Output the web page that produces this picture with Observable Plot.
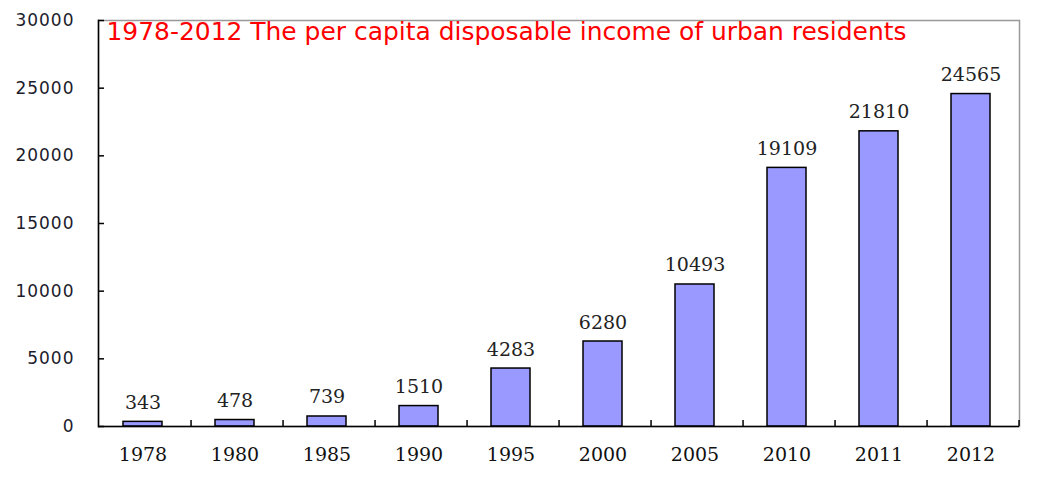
<!DOCTYPE html>
<html><head><meta charset="utf-8">
<script src="https://cdn.jsdelivr.net/npm/d3@7"></script>
<script src="https://cdn.jsdelivr.net/npm/@observablehq/plot@0.6"></script>
<style>
html,body{margin:0;padding:0;background:#fff;}
</style>
</head><body>
<div id="chart"></div>
<script>
const years = ["1978","1980","1985","1990","1995","2000","2005","2010","2011","2012"];
const incomes = [343,478,739,1510,4283,6280,10493,19109,21810,24565];
const yTicks = [0,5000,10000,15000,20000,25000,30000];
const titleText = "1978-2012 The per capita disposable income of urban residents";

const data = years.map((y,i)=>({year:y, value:incomes[i]}));
const W = 1044, H = 481, mL = 98, mR = 25, mT = 20, mB = 55;
const step = (W - mL - mR) / years.length;
const innerH = H - mT - mB;
const innerW = W - mL - mR;
const digitFont = "'DejaVu Serif', serif";

const chart = Plot.plot({
  width: W, height: H,
  marginLeft: mL, marginRight: mR, marginTop: mT, marginBottom: mB,
  style: {background: "#fff", overflow: "visible"},
  x: {domain: years, paddingInner: 0.58, paddingOuter: 0.29, align: 0.5},
  y: {domain: [0, 30000], ticks: yTicks},
  marks: [
    Plot.frame({stroke: "#999", strokeWidth: 1.5}),
    Plot.barY(data, {x: "year", y: "value", fill: "#9999FF", stroke: "#000", strokeWidth: 1.5, dx: -2}),
    Plot.frame({anchor: "left", stroke: "#000", strokeWidth: 1.5}),
    Plot.ruleY([0], {stroke: "#000", strokeWidth: 1.5}),
    Plot.tickY(yTicks, {y: d => d, stroke: "#000", strokeWidth: 1.5, insetRight: innerW - 6}),
    Plot.tickX(years, {x: d => d, dx: step / 2, stroke: "#000", strokeWidth: 1.5, insetTop: innerH - 6}),
    Plot.axisY({ticks: yTicks, tickFormat: d => String(d), tickSize: 0, tickPadding: 24, fontSize: 17, fontFamily: "'DejaVu Sans', Verdana, sans-serif", fill: "#1c1c2c", label: null}),
    Plot.axisX({tickSize: 0, tickPadding: 21, fontSize: 19, fontFamily: digitFont, fill: "#111", label: null, dx: -2}),
    Plot.text(data, {x: "year", y: "value", text: d => String(d.value), lineAnchor: "bottom", dy: -13, dx: -2, fontSize: 19, fontFamily: digitFont, fill: "#222"}),
    Plot.text([titleText], {frameAnchor: "top-left", dx: 8, dy: 2, textAnchor: "start", lineAnchor: "top", fill: "#ff0000", fontSize: 25, fontFamily: "Tahoma, 'DejaVu Sans Condensed', 'DejaVu Sans', sans-serif"})
  ]
});
document.getElementById("chart").appendChild(chart);
d3.select(chart).selectAll("text").filter(function(){return this.textContent===titleText;})
  .attr("textLength", 800).attr("lengthAdjust", "spacingAndGlyphs");
d3.select(chart).selectAll("g[aria-label='y-axis tick label'] text")
  .attr("letter-spacing", 1);
</script>
</body></html>
